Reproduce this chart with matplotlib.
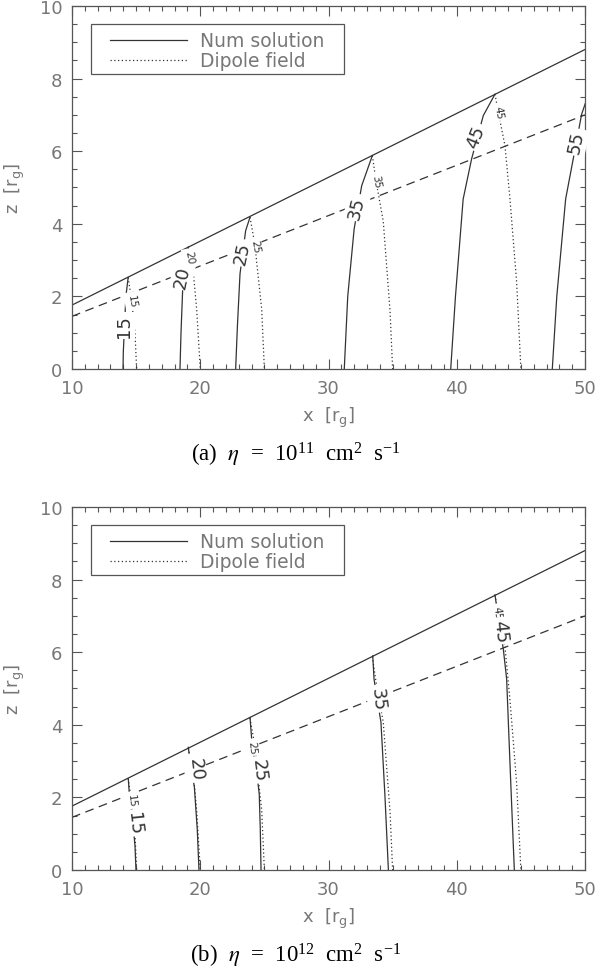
import matplotlib
matplotlib.use('Agg')
import matplotlib.pyplot as plt
from matplotlib.ticker import MultipleLocator
from matplotlib.patches import Rectangle

# disk surface (solid) and dashed reference line, same in both panels
cone_x = [10, 50]
cone_z = [1.76, 8.8]
dash_x = [10, 50]
dash_z = [1.45, 7.0]

# dipole field lines (dotted), shared by both panels
dip_levels = [15, 20, 25, 35, 45]
dip_x = [[14.38, 14.65, 14.91, 15.04],
         [19.07, 19.46, 19.72, 20.0],
         [23.88, 24.27, 24.4, 24.79, 25.0],
         [33.42, 33.7, 34.27, 34.8, 35.0],
         [42.98, 43.24, 43.76, 44.15, 44.67, 45.0]]
dip_z = [[2.52, 1.88, 1.0, 0.0],
         [3.36, 2.66, 1.65, 0.0],
         [4.18, 3.4, 2.94, 1.65, 0.0],
         [5.88, 5.19, 4.07, 1.59, 0.0],
         [7.57, 7.07, 6.15, 4.68, 2.39, 0.0]]

# panel (a): eta = 1e11
a_levels = [15, 20, 25, 35, 45, 55]
a_x = [[13.98, 14.0, 14.1, 14.2, 14.38],
       [18.42, 18.5, 18.63, 19.07],
       [22.76, 22.9, 23.1, 23.54, 23.88],
       [31.23, 31.5, 32.0, 32.59, 33.42],
       [39.53, 39.9, 40.5, 41.16, 42.07, 42.98],
       [47.45, 47.8, 48.49, 49.03, 49.74, 50.05]]
a_z = [[0.0, 0.47, 1.2, 2.0, 2.52],
       [0.0, 1.0, 2.2, 3.36],
       [0.0, 1.2, 2.62, 3.81, 4.18],
       [0.0, 2.0, 3.86, 5.05, 5.88],
       [0.0, 2.0, 4.68, 5.79, 6.98, 7.57],
       [0.0, 2.0, 4.68, 5.69, 7.02, 7.34]]
a_lab_x = [14.05, 18.6, 23.25, 32.2, 41.45, 49.3]
a_lab_z = [1.2, 2.55, 3.2, 4.45, 6.4, 6.25]
a_dip_lab_x = [14.65, 19.15, 24.27, 33.7, 43.24]
a_dip_lab_z = [1.88, 3.08, 3.4, 5.19, 7.07]

# panel (b): eta = 1e12
b_levels = [15, 20, 25, 35, 45]
b_x = [[14.99, 14.91, 14.75, 14.47, 14.39],
       [19.9, 19.77, 19.54, 19.2, 19.07],
       [24.74, 24.68, 24.6, 24.4, 24.06, 23.88],
       [34.67, 34.4, 34.09, 33.8, 33.55, 33.45],
       [44.49, 44.2, 43.89, 43.63, 43.3, 42.98]]
b_z = [[0.0, 0.67, 1.3, 2.09, 2.51],
       [0.0, 1.1, 2.29, 3.0, 3.38],
       [0.0, 1.13, 2.09, 2.7, 3.37, 4.2],
       [0.0, 2.05, 4.07, 4.7, 5.26, 5.9],
       [0.0, 2.5, 5.26, 6.09, 6.8, 7.58]]
b_lab_x = [14.85, 19.62, 24.55, 33.88, 43.37]
b_lab_z = [1.3, 2.78, 2.76, 4.71, 6.59]
b_dip_lab_x = [14.6, 19.07, 24.0, 33.55, 43.11]
b_dip_lab_z = [1.92, 2.96, 3.38, 4.85, 7.1]

captions = [r'(a)  $\mathit{\eta}$  =  10$^{11}$  cm$^{2}$  s$^{-1}$',
            r'(b)  $\mathit{\eta}$  =  10$^{12}$  cm$^{2}$  s$^{-1}$']

plt.rcParams['font.family'] = 'DejaVu Sans'
plt.rcParams['mathtext.default'] = 'regular'

LINE = '#333333'
TEXT = '#777777'
AXC = '#555555'


def setup_axes(ax):
    ax.set_xlim(10, 50)
    ax.set_ylim(0, 10)
    ax.xaxis.set_major_locator(MultipleLocator(10))
    ax.xaxis.set_minor_locator(MultipleLocator(1))
    ax.yaxis.set_major_locator(MultipleLocator(2))
    ax.yaxis.set_minor_locator(MultipleLocator(0.5))
    ax.tick_params(which='both', direction='in', top=True, right=True,
                   color=AXC, width=0.8, labelcolor=TEXT, labelsize=13)
    ax.tick_params(which='major', length=7, pad=7)
    ax.tick_params(which='minor', length=3.5)
    for sp in ax.spines.values():
        sp.set_color(AXC)
        sp.set_linewidth(0.9)
    ax.set_xlabel(r'x  [r$_{g}$]', fontsize=13, color=TEXT, labelpad=6)
    ax.set_ylabel(r'z  [r$_{g}$]', fontsize=13, color=TEXT, labelpad=9)

    ax.plot(cone_x, cone_z, color=LINE, lw=0.9)
    ax.plot(dash_x, dash_z, color=LINE, lw=0.9, dashes=(7, 4.5))

    # legend box drawn by hand in axes coordinates
    ax.add_patch(Rectangle((0.038, 0.813), 0.493, 0.137, transform=ax.transAxes,
                           fill=False, ec=AXC, lw=0.9, zorder=5))
    ax.plot([0.074, 0.224], [0.905, 0.905], transform=ax.transAxes,
            color=LINE, lw=0.9)
    ax.plot([0.074, 0.224], [0.85, 0.85], transform=ax.transAxes,
            color=LINE, lw=0.9, linestyle=(0, (1, 2)))
    ax.text(0.249, 0.905, 'Num solution', transform=ax.transAxes,
            fontsize=13.5, color=TEXT, va='center')
    ax.text(0.249, 0.85, 'Dipole field', transform=ax.transAxes,
            fontsize=13.5, color=TEXT, va='center')


def label(ax, x, z, txt, rot, size):
    ax.text(x, z, txt, rotation=rot, rotation_mode='anchor', ha='center',
            va='center', fontsize=size, color=LINE, zorder=4,
            bbox=dict(fc='white', ec='none', pad=1.5))


fig = plt.figure(figsize=(6, 9.78), dpi=100)
ax_a = fig.add_axes([0.12, 0.6217, 0.855, 0.3712])
ax_b = fig.add_axes([0.12, 0.1094, 0.855, 0.3712])

for ax in (ax_a, ax_b):
    setup_axes(ax)
    for xs, zs in zip(dip_x, dip_z):
        ax.plot(xs, zs, color=LINE, lw=0.9, linestyle=(0, (1, 2)))

# panel (a)
a_rot = [90, 78, 78, 76, 68, 78]
for xs, zs in zip(a_x, a_z):
    ax_a.plot(xs, zs, color=LINE, lw=0.9)
for lv, x, z, r in zip(a_levels, a_lab_x, a_lab_z, a_rot):
    label(ax_a, x, z, str(lv), r, 13)
for lv, x, z in zip(dip_levels, a_dip_lab_x, a_dip_lab_z):
    label(ax_a, x, z, str(lv), -80, 7.5)

# panel (b)
for xs, zs in zip(b_x, b_z):
    ax_b.plot(xs, zs, color=LINE, lw=0.9)
for lv, x, z in zip(dip_levels, b_dip_lab_x, b_dip_lab_z):
    label(ax_b, x, z, str(lv), -84, 7.5)
for lv, x, z in zip(b_levels, b_lab_x, b_lab_z):
    label(ax_b, x, z, str(lv), -84, 13)

plt.rcParams['mathtext.fontset'] = 'stix'
for ypos, cap in zip([455, 956], captions):
    fig.text(296 / 600, 1 - ypos / 978, cap, ha='center', va='center',
             fontsize=16.5, family='Liberation Serif', color='black')

fig.savefig('out.png', dpi=100)
